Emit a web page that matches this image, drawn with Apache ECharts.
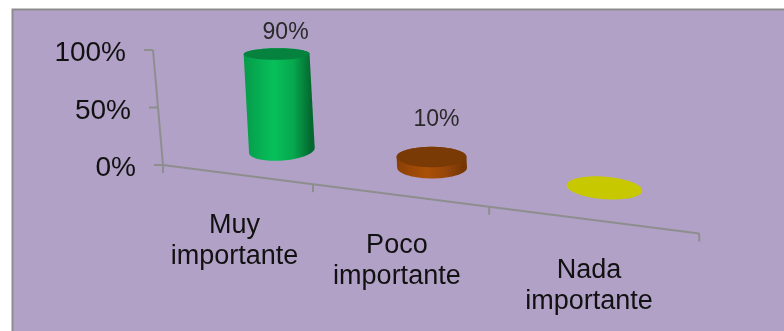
<!DOCTYPE html>
<html>
<head>
<meta charset="utf-8">
<style>html,body{margin:0;padding:0;background:#fff}#c{width:784px;height:331px}</style>
<script src="https://cdn.jsdelivr.net/npm/echarts@6/dist/echarts.min.js"></script>
</head>
<body>
<div id="c"></div>
<script>
const categories = ['Muy\nimportante', 'Poco\nimportante', 'Nada\nimportante'];
const values = [90, 10, 0];
const yTicks = [0, 50, 100];
const wallStops = [
  ['#069a4a', '#07c05a', '#06a84e', '#04682f'],
  ['#8a4006', '#aa5006', '#96460a', '#743604'],
  ['#c8c800', '#c8c800', '#c8c800', '#c8c800']
];
const topColors = ['#05823e', '#7a3a06', '#c8c800'];

const GL = 163, GT = 50, GW = 536, GH = 115;
const SLOPE = 68.5 / 536, PA = 138.8, PB = 0.0745;
const floorX = u => GL + PA * u / (1 - PB * u);
const floorY = x => GT + GH + (x - GL) * SLOPE;
const FONT = 'Liberation Sans, Arial, sans-serif';
const AXIS = '#8e8e8e';

function ellipse(cx, cy, rx, ry, deg, from, to, n) {
  const a = deg * Math.PI / 180, pts = [];
  for (let k = 0; k <= n; k++) {
    const t = (from + (to - from) * k / n) * Math.PI / 180;
    const x = rx * Math.cos(t), y = ry * Math.sin(t);
    pts.push([cx + x * Math.cos(a) - y * Math.sin(a), cy + x * Math.sin(a) + y * Math.cos(a)]);
  }
  return pts;
}

function renderCylinder(params, api) {
  const i = api.value(0), v = api.value(1);
  const c0 = api.coord([i, 0]), c = api.coord([i, v]), bw = api.size([1, 0])[0];
  const u = (c0[0] - GL) / bw;
  const axisX = floorX(u);
  const bx = axisX + 50 - 4.5 * u - 3.8 * u * u;
  const by = floorY(bx) - 29 - 1.8 * u;
  const rx = 32.3 + u + 0.5 * u * u, ry = 10 + 0.5 * u, tilt = (u - 1.5) * 4.5;
  const h = (c0[1] - c[1]) * 0.93;
  const tx = bx - h * 0.055, ty = by - h;
  const topRy = ry * (1 - v * 0.0048), topTilt = tilt * (1 - v / 100);
  const kids = [];
  if (v > 0) {
    const wall = ellipse(bx, by, rx, ry, tilt, 0, 180, 40)
      .concat(ellipse(tx, ty, rx, topRy, topTilt, 180, 360, 20));
    kids.push({
      type: 'polygon', shape: { points: wall },
      style: { fill: new echarts.graphic.LinearGradient(0, 0, 1, 0, [
        { offset: 0, color: wallStops[i][0] },
        { offset: 0.42, color: wallStops[i][1] },
        { offset: 0.7, color: wallStops[i][2] },
        { offset: 0.95, color: wallStops[i][3] },
        { offset: 1, color: wallStops[i][3] }
      ]) }
    });
  }
  kids.push({
    type: 'polygon', shape: { points: ellipse(tx, ty, rx, topRy, topTilt, 0, 360, 72) },
    style: { fill: topColors[i] }
  });
  if (v > 0) {
    kids.push({
      type: 'text',
      style: {
        text: v + '%', x: tx + 4.5 + v * 0.05, y: ty - topRy - 27.5 + (v - 10) * 0.15,
        textAlign: 'center', textVerticalAlign: 'middle',
        font: '23px ' + FONT, fill: '#2a2a2a'
      }
    });
  }
  return { type: 'group', children: kids };
}

function renderYAxis(params, api) {
  const v = api.value(0);
  const base = api.coord([0, 0])[1];
  const at = val => {
    const y = api.coord([0, val])[1];
    return [GL - (base - y) * 10 / GH, y];
  };
  const a = at(v);
  const kids = [
    { type: 'line', shape: { x1: a[0] - 9, y1: a[1], x2: a[0], y2: a[1] }, style: { stroke: AXIS, lineWidth: 2 } },
    { type: 'text', style: { text: v + '%', x: a[0] - 27, y: a[1] + 3.5, textAlign: 'right', textVerticalAlign: 'middle', font: '28px ' + FONT, fill: '#111' } }
  ];
  if (params.dataIndex < yTicks.length - 1) {
    const b = at(yTicks[params.dataIndex + 1]);
    kids.push({ type: 'line', shape: { x1: a[0], y1: a[1], x2: b[0], y2: b[1] }, style: { stroke: AXIS, lineWidth: 2 } });
  }
  return { type: 'group', children: kids };
}

function renderXAxis(params, api) {
  const i = api.value(0), c0 = api.coord([i, 0]), bw = api.size([1, 0])[0];
  const u = (c0[0] - GL) / bw;
  const x1 = floorX(u - 0.5), x2 = floorX(u + 0.5), xm = floorX(u);
  const tick = x => ({ type: 'line', shape: { x1: x, y1: floorY(x), x2: x, y2: floorY(x) + 8 }, style: { stroke: AXIS, lineWidth: 2 } });
  const kids = [
    { type: 'line', shape: { x1: x1, y1: floorY(x1), x2: x2, y2: floorY(x2) }, style: { stroke: AXIS, lineWidth: 2 } },
    tick(x1),
    { type: 'text', style: { text: categories[i], x: xm - 0.5, y: floorY(xm) + 35.5, textAlign: 'center', textVerticalAlign: 'top', font: '27px ' + FONT, lineHeight: 31, fill: '#111' } }
  ];
  if (i === categories.length - 1) kids.push(tick(x2));
  return { type: 'group', children: kids };
}

const chart = echarts.init(document.getElementById('c'), null, { renderer: 'canvas' });
chart.setOption({
  animation: false,
  backgroundColor: '#ffffff',
  graphic: [{
    type: 'rect', z: -10,
    shape: { x: 12.5, y: 9.5, width: 800, height: 400 },
    style: { fill: '#b1a1c7', stroke: '#8c8c8c', lineWidth: 2 }
  }],
  grid: { left: GL, top: GT, width: GW, height: GH },
  xAxis: { type: 'category', data: categories, show: false },
  yAxis: { type: 'value', min: 0, max: 100, interval: 50, show: false },
  series: [
    { type: 'custom', clip: false, silent: true, renderItem: renderYAxis, data: yTicks.map(v => [v]), encode: { y: 0 } },
    { type: 'custom', clip: false, silent: true, renderItem: renderXAxis, data: categories.map((c, i) => [i]), encode: { x: 0 } },
    { type: 'custom', clip: false, silent: true, renderItem: renderCylinder, data: values.map((v, i) => [i, v]), encode: { x: 0, y: 1 } }
  ]
});
</script>
</body>
</html>
